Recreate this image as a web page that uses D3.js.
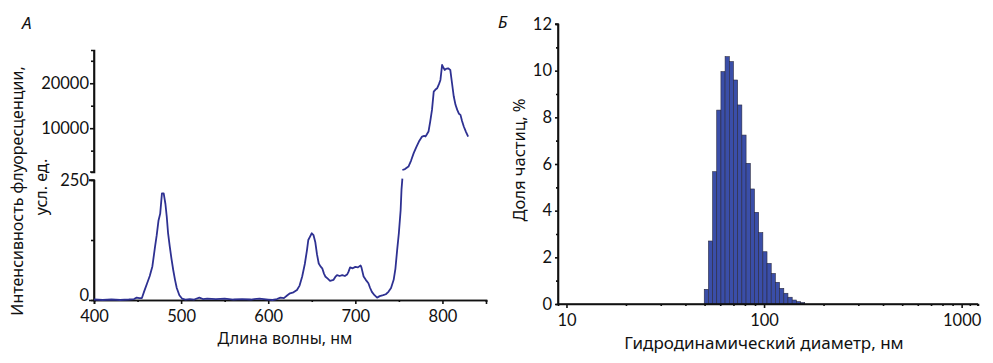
<!DOCTYPE html>
<html>
<head>
<meta charset="utf-8">
<script src="https://cdn.jsdelivr.net/npm/d3@7"></script>
<style>
  body { margin: 0; background: #fff; }
  svg { display: block; }
  text { font-family: "Noto Sans", "DejaVu Sans", sans-serif; fill: #111; }
  .tick text { font-family: Lato, "Noto Sans", sans-serif; }
</style>
</head>
<body>
<svg id="chart" width="993" height="363"></svg>
<script>
// ---- Panel A data: fluorescence spectrum ----
const lowWavelength = [400,410,420,430,440,446,449,452,455,458,461,464,467,470,472,474,476,478,480,482,483.5,485,487,489,491,493,495,498,501,505,510,515,521,525,530,540,550,560,570,580,590,600,605,610,614,618,622,625,629,633,636,639,642,644.5,646,648,650,652,654,656,658,660,662,664,665.5,668,671,675,677,679,682,685,688,690.5,692,694,697,700,703,706,707,709.5,712,715,717,719,722,725,728,732,735,738,741,744,746,748,750,752,753,754];
const lowIntensity = [1,0,1,0,1,2,5,4,4,20,35,50,70,110,135,165,180,222,222,200,174,140,111,85,62,42,25,10,3,1,2,1,5,2,3,2,3,1,2,1,3,1,0,2,5,4,10,14,16,21,30,49,75,104,125,132,139,135,121,95,76,70,66,55,49,45,40,42,48,52,50,52,50,53,58,68,66,69,68,72,68,49,42,35,25,17,10,5,8,10,12,17,25,42,65,104,140,187,230,270];
const highWavelength = [754,757,761,764,767,770,773,776.6,779,780.5,782,784,786,788,790,792,794,796,797.7,799,799.6,801,802.7,804,806.5,808,809,811,813,815,817,819,820.7,822.5,824.5,827,829.5];
const highIntensity = [700,900,1470,2800,4440,5800,7030,8140,8300,8140,8600,9250,11500,14070,18150,18600,18900,19800,20740,23000,24070,23500,22960,23200,23330,23100,22960,20000,17040,15200,14070,13200,12960,11600,10370,9200,8140];
const xTicksA = [400,500,600,700,800];
const lowTicks = [0,250];
const highTicks = [10000,20000];

// ---- Panel B data: size distribution ----
const binEdges = [49.8,52.3,54.9,57.6,60.5,63.5,66.7,70.0,73.5,77.2,81.1,85.2,89.4,93.9,98.6,103.5,108.7,114.1,119.8,125.9,132.1,138.8,145.7,152.9,160.6];
const binShare = [0.63,2.7,5.67,8.31,9.96,10.6,10.39,9.6,8.53,7.24,6.03,4.93,3.93,3.06,2.24,1.74,1.31,0.93,0.67,0.46,0.29,0.17,0.1,0.06];
const xTicksB = [10,100,1000];
const yTicksB = [0,2,4,6,8,10,12];

const svg = d3.select("#chart");
const lineColor = "#2e3192";
const tickFont = "16.5px";

function styleAxis(g) {
  g.selectAll("text").style("font-size", tickFont).attr("fill", "#111");
  g.selectAll("path,line").attr("stroke", "#111").attr("stroke-width", 1.6);
}

// ===== Panel A =====
const xA = d3.scaleLinear().domain([400, 850]).range([94, 486]);
const yLow = d3.scaleLinear().domain([0, 250]).range([300, 180]);
const yHigh = d3.scaleLinear().domain([250, 27400]).range([172, 50]);

const gA = svg.append("g");
// x axis
const gxA = gA.append("g").attr("transform", "translate(0,300)")
  .call(d3.axisBottom(xA).tickValues(xTicksA).tickSize(4).tickFormat(d3.format("d")));
gxA.append("g").call(d3.axisBottom(xA).tickValues([450,550,650,750,850]).tickSize(2).tickFormat(""));
// lower y axis
const gyLow = gA.append("g").attr("transform", "translate(94,0)")
  .call(d3.axisLeft(yLow).tickValues(lowTicks).tickSize(5).tickFormat(d3.format("d")));
gyLow.append("g").call(d3.axisLeft(yLow).tickValues([125]).tickSize(3).tickFormat(""));
gyLow.select(".domain").attr("d", "M-5," + yLow(250) + "H0V" + yLow(0));
// upper y axis
const gyHigh = gA.append("g").attr("transform", "translate(94,0)")
  .call(d3.axisLeft(yHigh).tickValues(highTicks).tickSize(4).tickFormat(d3.format("d")));
gyHigh.append("g").call(d3.axisLeft(yHigh).tickValues([5000,15000,25000]).tickSize(3).tickFormat(""));
gyHigh.select(".domain").attr("d", "M-4," + yHigh(250) + "H0V" + yHigh(27400));

[gxA, gyLow, gyHigh].forEach(styleAxis);
gxA.selectAll(".tick text").attr("y", 22).attr("dy", 0);
gyLow.selectAll(".tick text").attr("x", -5);
gyHigh.selectAll(".tick text").attr("x", -5);
gyLow.selectAll(".tick text").filter(d => d === 0).attr("dy", "0.05em");

const lineLow = d3.line().x((d, i) => xA(lowWavelength[i])).y(d => yLow(Math.min(d, 253)));
gA.append("path").datum(lowIntensity).attr("d", lineLow)
  .attr("fill", "none").attr("stroke", lineColor).attr("stroke-width", 1.8)
  .attr("stroke-linejoin", "round");
const lineHigh = d3.line().x((d, i) => xA(highWavelength[i])).y(d => yHigh(d));
gA.append("path").datum(highIntensity).attr("d", lineHigh)
  .attr("fill", "none").attr("stroke", lineColor).attr("stroke-width", 1.8)
  .attr("stroke-linejoin", "round");

gA.append("text").attr("x", 285).attr("y", 344).attr("text-anchor", "middle")
  .style("font-size", "16px").text("Длина волны, нм");
gA.append("text").attr("transform", "translate(23,191) rotate(-90)").attr("text-anchor", "middle")
  .style("font-size", "16px").text("Интенсивность флуоресценции,");
gA.append("text").attr("transform", "translate(47,187) rotate(-90)").attr("text-anchor", "middle")
  .style("font-size", "16px").text("усл. ед.");
gA.append("text").attr("x", 22).attr("y", 29).style("font-size", "17px").style("font-style", "italic").text("А");

// ===== Panel B =====
const xB = d3.scaleLog().domain([9.06, 1210]).range([558, 978]);
const yB = d3.scaleLinear().domain([0, 12]).range([304, 24]);
const gB = svg.append("g");

gB.selectAll("rect").data(binShare).enter().append("rect")
  .attr("x", (d, i) => xB(binEdges[i]))
  .attr("width", (d, i) => xB(binEdges[i + 1]) - xB(binEdges[i]))
  .attr("y", d => yB(d))
  .attr("height", d => yB(0) - yB(d))
  .attr("fill", "#3a4ea8").attr("stroke", "#2a2a40").attr("stroke-width", 0.6);

const minorB = [20,30,40,50,60,70,80,90,200,300,400,500,600,700,800,900,1100,1200];
const gxB = gB.append("g").attr("transform", "translate(0,304)")
  .call(d3.axisBottom(xB).tickValues(xTicksB).tickSize(4).tickFormat(d3.format("d")));
gxB.append("g").call(d3.axisBottom(xB).tickValues(minorB).tickSize(2).tickFormat(""));
gxB.select(".domain").attr("d", "M558,0H978");
const gyB = gB.append("g").attr("transform", "translate(558,0)")
  .call(d3.axisLeft(yB).tickValues(yTicksB).tickSize(3).tickFormat(d3.format("d")));
gyB.append("g").call(d3.axisLeft(yB).tickValues([1,3,5,7,9,11]).tickSize(2).tickFormat(""));
gyB.select(".domain").attr("d", "M-3," + yB(12) + "H0V" + yB(0));
[gxB, gyB].forEach(styleAxis);
gxB.selectAll(".tick text").attr("y", 22).attr("dy", 0);
gyB.selectAll(".tick text").attr("x", -6);

gB.append("text").attr("x", 764).attr("y", 349).attr("text-anchor", "middle")
  .style("font-size", "17px").text("Гидродинамический диаметр, нм");
gB.append("text").attr("transform", "translate(525,160) rotate(-90)").attr("text-anchor", "middle")
  .style("font-size", "16.5px").text("Доля частиц, %");
gB.append("text").attr("x", 498).attr("y", 28).style("font-size", "17px").style("font-style", "italic").text("Б");
</script>
</body>
</html>
